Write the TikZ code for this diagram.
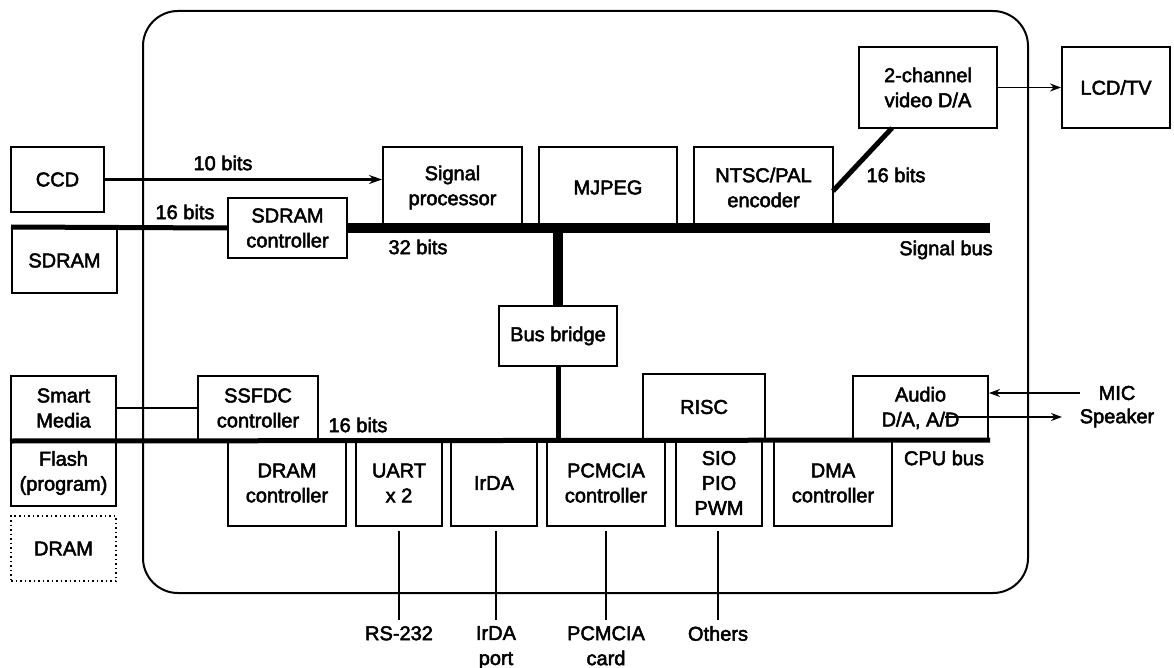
\documentclass[tikz,border=0pt]{standalone}
\usepackage{fontspec}
\setmainfont{Liberation Sans}[BoldFont={Liberation Sans},BoldFeatures={FakeBold=2.5}]
\usetikzlibrary{arrows.meta,calc}
\begin{document}
\begin{tikzpicture}[x=1pt,y=-1pt,
  font=\fontsize{20}{25}\selectfont\bfseries,
  box/.style={draw,line width=2pt,align=center,inner sep=0pt,fill=white},
  lbl/.style={inner sep=0pt,align=center},
  thin/.style={line width=1.5pt},
  arr/.style={line width=1.5pt,-{Stealth[length=11pt,width=8pt]}},
  wide/.style={line width=5pt},
  widest/.style={line width=10.5pt}]
\useasboundingbox (0,0) rectangle (1174,668);
% chip outline
\draw[line width=2pt,rounded corners=35pt] (143,11) rectangle (1028,593);
% boxes (top)
\node[box,minimum width=93pt,minimum height=65pt] (ccd) at (57.5,179.5) {CCD};
\node[box,minimum width=105pt,minimum height=65pt] (sdram) at (64.5,260.5) {SDRAM};
\node[box,minimum width=119pt,minimum height=60pt] (sdc) at (287.5,228) {SDRAM\\controller};
\node[box,minimum width=139pt,minimum height=81pt] (sp) at (452.5,187.5) {Signal\\processor};
\node[box,minimum width=138pt,minimum height=81pt] (mjpeg) at (608,187.5) {MJPEG};
\node[box,minimum width=139pt,minimum height=81pt] (ntsc) at (763.5,187.5) {NTSC/PAL\\encoder};
\node[box,minimum width=138pt,minimum height=81pt] (vda) at (928,87.5) {2-channel\\video D/A};
\node[box,minimum width=108pt,minimum height=81pt] (lcd) at (1116,87.5) {LCD/TV};
\node[box,minimum width=118pt,minimum height=60pt] (bb) at (558,336) {Bus bridge};
% boxes (bottom)
\node[box,minimum width=105pt,minimum height=64pt] (sm) at (63.5,408) {Smart\\Media};
\node[box,minimum width=105pt,minimum height=66pt] (flash) at (63.5,473) {Flash\\(program)};
\node[box,dotted,dash pattern=on 1.5pt off 3pt,minimum width=105pt,minimum height=65pt] (dram) at (63.5,548.5) {DRAM};
\node[box,minimum width=120pt,minimum height=64pt] (ssfdc) at (258,408) {SSFDC\\controller};
\node[box,minimum width=122pt,minimum height=66pt] (risc) at (704,407) {RISC};
\node[box,minimum width=135pt,minimum height=64pt] (audio) at (920.5,408) {Audio\\D/A, A/D};
\node[box,minimum width=118pt,minimum height=86pt] (dramc) at (287,483) {DRAM\\controller};
\node[box,minimum width=86pt,minimum height=86pt] (uart) at (399,483) {UART\\x 2};
\node[box,minimum width=86pt,minimum height=86pt] (irda) at (494,483) {IrDA};
\node[box,minimum width=118pt,minimum height=86pt] (pcm) at (606,483) {PCMCIA\\controller};
\node[box,minimum width=86pt,minimum height=86pt] (sio) at (719,483) {SIO\\PIO\\PWM};
\node[box,minimum width=118pt,minimum height=86pt] (dma) at (833,483) {DMA\\controller};
% external labels
\node[lbl] (mic) at (1117,393) {MIC};
\node[lbl] (spk) at (1117,418) {Speaker};
\node[lbl,anchor=north] (rs) at (399,626) {RS-232};
\node[lbl,anchor=north] (irp) at (496,626) {IrDA\\port};
\node[lbl,anchor=north] (pcc) at (606,626) {PCMCIA\\card};
\node[lbl,anchor=north] (oth) at (718,626) {Others};
% bit labels
\node[lbl] (l10) at (223,163) {10 bits};
\node[lbl] (l16a) at (185,212) {16 bits};
\node[lbl] (l32) at (418,247) {32 bits};
\node[lbl] (l16b) at (896,175) {16 bits};
\node[lbl] (lsb) at (946,250) {Signal bus};
\node[lbl] (l16c) at (358,425) {16 bits};
\node[lbl] (lcpu) at (944,458) {CPU bus};
% coordinates
\coordinate (sbend) at (990,228);
\coordinate (sbtap) at (558,228);
\coordinate (cpuend) at (990,440);
\coordinate (cputap) at (558,440);
\coordinate (ntscout) at (833,191);
\coordinate (vdain) at (892,128);
\coordinate (micfrom) at (1080,393);
\coordinate (spkfrom) at (945,417);
\coordinate (spkto) at (1062,417);
% buses
\draw[widest] (sdc.east) -- (sbend);
\draw[wide] (sdram.north west) -- (sdc.west);
\draw[widest] (sbtap) -- (bb.north);
\draw[wide] (bb.south) -- (cputap);
\draw[wide] (sm.south west) -- (cpuend);
\draw[wide] (ntscout) -- (vdain);
% connectors
\draw[line width=3pt,-{Stealth[length=13pt,width=9pt]}] (ccd.east) -- (ccd.east -| sp.west);
\draw[arr] (vda.east) -- (lcd.west);
\draw[arr] (micfrom) -- (audio.east |- micfrom);
\draw[arr] (spkfrom) -- (spkto);
\draw[thin] (sm.east) -- (ssfdc.west);
\draw[thin] ([yshift=-4pt]uart.south) -- ([yshift=6pt]rs.north);
\draw[thin] ([yshift=-4pt]irda.south -| irp.north) -- ([yshift=6pt]irp.north);
\draw[thin] ([yshift=-4pt]pcm.south) -- ([yshift=6pt]pcc.north);
\draw[thin] ([yshift=-4pt]sio.south -| oth.north) -- ([yshift=6pt]oth.north);
\end{tikzpicture}
\end{document}
